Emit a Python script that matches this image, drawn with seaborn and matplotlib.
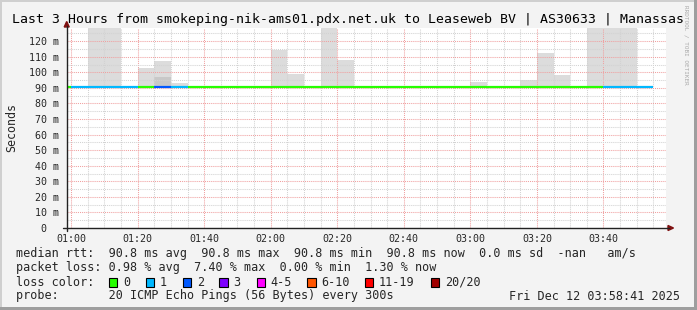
import numpy as np
import pandas as pd
import matplotlib
matplotlib.use("Agg")
import matplotlib.pyplot as plt
import seaborn as sns
from matplotlib.patches import Rectangle, Polygon
from matplotlib.lines import Line2D

# ---------------- data ----------------
interval_start = ["00:55", "01:00", "01:05", "01:10", "01:15", "01:20", "01:25", "01:30",
                  "01:35", "01:40", "01:45", "01:50", "01:55", "02:00", "02:05", "02:10",
                  "02:15", "02:20", "02:25", "02:30", "02:35", "02:40", "02:45", "02:50",
                  "02:55", "03:00", "03:05", "03:10", "03:15", "03:20", "03:25", "03:30",
                  "03:35", "03:40", "03:45", "03:50"]
median_rtt_ms = [90.8] * 36
lost_pings = [0, 1, 1, 1, 1, 0, 2, 1,
              0, 0, 0, 0, 0, 0, 0, 0,
              0, 0, 0, 0, 0, 0, 0, 0,
              0, 0, 0, 0, 0, 0, 0, 0,
              0, 1, 1, 1]
smoke_max_ms = [None, None, 130, 130, None, 102.8, 107.5, 93.4,
                None, None, None, None, None, 114.6, 99.2, None,
                130, 108.0, None, None, None, None, None, None,
                None, 93.8, None, None, 95.3, 112.7, 98.6, None,
                130, 130, 130, None]
smoke_mid_ms = [None, None, None, None, None, None, 97.0, None] + [None] * 28

x_tick_labels = ["01:00", "01:20", "01:40", "02:00", "02:20", "02:40", "03:00", "03:20", "03:40"]
y_tick_values = [0, 10, 20, 30, 40, 50, 60, 70, 80, 90, 100, 110, 120]

loss_legend_labels = ["0", "1", "2", "3", "4-5", "6-10", "11-19", "20/20"]
loss_legend_colors = ["#26ff00", "#00b8ff", "#0059ff", "#7e00ff", "#ff00ff", "#ff5500", "#ff0000", "#a10000"]

title = "Last 3 Hours from smokeping-nik-ams01.pdx.net.uk to Leaseweb BV | AS30633 | Manassas"
row_rtt = "median rtt:  90.8 ms avg  90.8 ms max  90.8 ms min  90.8 ms now  0.0 ms sd  -nan   am/s"
row_loss = "packet loss: 0.98 % avg  7.40 % max  0.00 % min  1.30 % now"
row_color = "loss color:"
row_probe = "probe:       20 ICMP Echo Pings (56 Bytes) every 300s"
stamp = "Fri Dec 12 03:58:41 2025"
watermark = "RRDTOOL / TOBI OETIKER"

# ---------------- helpers ----------------
def to_min(s):
    h, m = s.split(":")
    return (int(h) - 1) * 60 + int(m)   # minutes after 01:00

def loss_color(n):
    if n <= 0: return loss_legend_colors[0]
    if n == 1: return loss_legend_colors[1]
    if n == 2: return loss_legend_colors[2]
    if n == 3: return loss_legend_colors[3]
    if n <= 5: return loss_legend_colors[4]
    if n <= 10: return loss_legend_colors[5]
    if n <= 19: return loss_legend_colors[6]
    return loss_legend_colors[7]

W, H = 697, 310
def fx(px): return px / W
def fy(py): return 1 - py / H

sns.set_theme(style="white")
plt.rcParams["font.family"] = ["DejaVu Sans Mono", "DejaVu Sans"]

fig = plt.figure(figsize=(W / 100, H / 100), dpi=100, facecolor="#f3f3f3")
ax_l, ax_r, ax_t, ax_b = 66.7, 665.6, 28.0, 228.0
ax = fig.add_axes([fx(ax_l), fy(ax_b), fx(ax_r - ax_l), (ax_b - ax_t) / H])
ax.set_facecolor("white")

starts = np.array([to_min(s) for s in interval_start], dtype=float)
med = np.array(median_rtt_ms, dtype=float)
smax = np.array([np.nan if v is None else v for v in smoke_max_ms], dtype=float)
smid = np.array([np.nan if v is None else v for v in smoke_mid_ms], dtype=float)

# smoke
m = ~np.isnan(smax)
ax.bar(starts[m], smax[m] - med[m], bottom=med[m], width=5, align="edge",
       color="#dcdcdc", linewidth=0, zorder=1)
m2 = ~np.isnan(smid)
ax.bar(starts[m2], smid[m2] - med[m2], bottom=med[m2], width=5, align="edge",
       color="#c8c8c8", linewidth=0, zorder=1.1)

# median line coloured by loss
rows = []
for i, (s, v, n) in enumerate(zip(starts, med, lost_pings)):
    rows.append({"t": s, "rtt": v, "seg": f"s{i}"})
    rows.append({"t": s + 5, "rtt": v, "seg": f"s{i}"})
df = pd.DataFrame(rows)
palette = {f"s{i}": loss_color(n) for i, n in enumerate(lost_pings)}
sns.lineplot(data=df, x="t", y="rtt", hue="seg", palette=palette, estimator=None,
             legend=False, linewidth=1.6, solid_capstyle="butt", ax=ax, zorder=3)

# axes scales & grid
ax.set_xlim(-1.32, 178.68)
ax.set_ylim(0, 128.5)
major_x = [to_min(s) for s in x_tick_labels]
ax.set_xticks(major_x)
ax.set_xticklabels(x_tick_labels)
ax.set_xticks(np.arange(0, 179, 5), minor=True)
ax.set_yticks(y_tick_values)
ax.set_yticklabels([f"{v} m" if v else "0  " for v in y_tick_values])
ax.set_yticks(np.arange(5, 128, 10), minor=True)
ax.set_xlabel("")
ax.set_ylabel("")
ax.set_axisbelow("line")
ax.grid(which="minor", color="#d2d2d2", linestyle=(0, (1, 1)), linewidth=0.75)
ax.grid(which="major", color="#f0a0a0", linestyle=(0, (1, 1)), linewidth=0.75)
for sp in ax.spines.values():
    sp.set_visible(False)
ax.tick_params(axis="both", which="major", labelsize=7.2, length=2.5, width=0.75,
               direction="out", color="#e89090")
ax.tick_params(axis="both", which="minor", length=2.0, width=0.75, direction="out",
               color="#cccccc")
ax.tick_params(axis="x", which="major", pad=2.0)
ax.tick_params(axis="y", which="major", pad=3.2)

# axis lines + arrows (figure pixel coordinates)
axis_c = "#222222"
fig.add_artist(Line2D([fx(63), fx(669)], [fy(228), fy(228)], color=axis_c, lw=1.0,
                      transform=fig.transFigure))
fig.add_artist(Line2D([fx(66.7), fx(66.7)], [fy(231), fy(26)], color=axis_c, lw=1.0,
                      transform=fig.transFigure))
arrow_c = "#7f1010"
fig.add_artist(Polygon([[fx(668), fy(225.5)], [fx(673.5), fy(228)], [fx(668), fy(230.5)]],
                       closed=True, color=arrow_c, transform=fig.transFigure))
fig.add_artist(Polygon([[fx(64.2), fy(27)], [fx(66.7), fy(21.5)], [fx(69.2), fy(27)]],
                       closed=True, color=arrow_c, transform=fig.transFigure))

# texts
fig.text(fx(348.5), fy(19), title, ha="center", va="center", fontsize=9.55, color="black")
fig.text(fx(12), fy(128), "Seconds", rotation=90, ha="center", va="center", fontsize=8.4)
fig.text(fx(686.5), fy(5), watermark, rotation=-90, ha="center", va="top",
         fontsize=4.3, color="#aaaaaa")
leg_fs = 8.47
fig.text(fx(16), fy(254), row_rtt, ha="left", va="center", fontsize=leg_fs)
fig.text(fx(16), fy(268), row_loss, ha="left", va="center", fontsize=leg_fs)
fig.text(fx(16), fy(282), row_color, ha="left", va="center", fontsize=leg_fs)
fig.text(fx(16), fy(296), row_probe, ha="left", va="center", fontsize=leg_fs)
fig.text(fx(680), fy(296), stamp, ha="right", va="center", fontsize=leg_fs)

sw_x = [109, 145.7, 182.7, 219.3, 256.7, 307.3, 365, 430.7]
for xpx, lab, col in zip(sw_x, loss_legend_labels, loss_legend_colors):
    fig.add_artist(Rectangle((fx(xpx), fy(286.5)), 8.3 / W, 8.3 / H, facecolor=col,
                             edgecolor="black", linewidth=0.8, transform=fig.transFigure))
    fig.text(fx(xpx + 14), fy(282), lab, ha="left", va="center", fontsize=leg_fs)

# 3D frame
fig.add_artist(Rectangle((0, fy(2)), 1, 2 / H, color="#cfcfcf", transform=fig.transFigure, lw=0))
fig.add_artist(Rectangle((0, 0), 2 / W, 1, color="#cfcfcf", transform=fig.transFigure, lw=0))
fig.add_artist(Rectangle((fx(694), 0), 3 / W, 1, color="#9e9e9e", transform=fig.transFigure, lw=0))
fig.add_artist(Rectangle((0, 0), 1, 3 / H, color="#9e9e9e", transform=fig.transFigure, lw=0))

fig.savefig("out.png", dpi=100, facecolor=fig.get_facecolor())
